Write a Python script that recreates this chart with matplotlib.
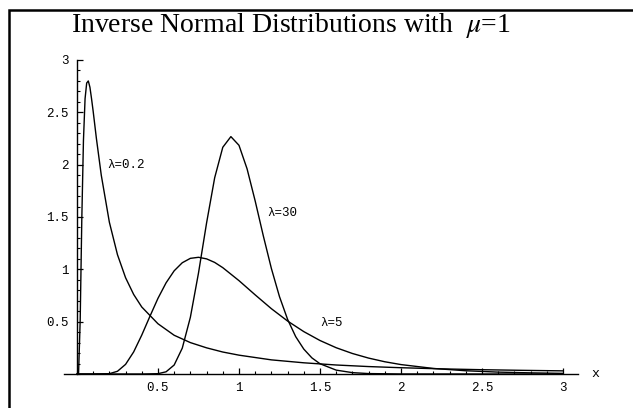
import matplotlib
matplotlib.use("Agg")
import matplotlib.pyplot as plt
from matplotlib.patches import Rectangle
from matplotlib.ticker import MultipleLocator, FixedLocator

# ---- data ----
x_l02 = [0.005, 0.01, 0.02, 0.03, 0.04, 0.05, 0.06, 0.07, 0.08, 0.09, 0.10, 0.12,
         0.15, 0.20, 0.25, 0.30, 0.35, 0.40, 0.50, 0.60, 0.70, 0.80, 0.90, 1.00,
         1.20, 1.40, 1.60, 1.80, 2.00, 2.25, 2.50, 2.75, 3.00]
y_l02 = [0.0, 0.01, 0.52, 1.49, 2.23, 2.63, 2.78, 2.80, 2.74, 2.63, 2.51, 2.25,
         1.90, 1.45, 1.14, 0.92, 0.76, 0.64, 0.48, 0.37, 0.30, 0.25, 0.21, 0.18,
         0.135, 0.107, 0.086, 0.071, 0.060, 0.049, 0.041, 0.035, 0.030]

x_l5 = [0.0, 0.10, 0.20, 0.25, 0.30, 0.35, 0.40, 0.45, 0.50, 0.55, 0.60, 0.65,
        0.70, 0.75, 0.80, 0.85, 0.90, 1.00, 1.10, 1.20, 1.30, 1.40, 1.50, 1.60,
        1.70, 1.80, 1.90, 2.00, 2.20, 2.40, 2.60, 2.80, 3.00]
y_l5 = [0.0, 0.0, 0.003, 0.026, 0.092, 0.211, 0.372, 0.550, 0.723, 0.871, 0.986, 1.063,
        1.105, 1.115, 1.100, 1.066, 1.016, 0.892, 0.756, 0.624, 0.506, 0.405, 0.320, 0.251,
        0.196, 0.152, 0.117, 0.090, 0.053, 0.031, 0.018, 0.011, 0.006]

x_l30 = [0.0, 0.40, 0.50, 0.55, 0.60, 0.65, 0.70, 0.75, 0.80, 0.85, 0.90, 0.95,
         1.00, 1.05, 1.10, 1.15, 1.20, 1.25, 1.30, 1.35, 1.40, 1.45, 1.50, 1.60,
         1.70, 1.80, 2.00, 2.50, 3.00]
y_l30 = [0.0, 0.0, 0.003, 0.021, 0.086, 0.247, 0.542, 0.964, 1.443, 1.875, 2.166, 2.268,
         2.185, 1.960, 1.653, 1.321, 1.008, 0.739, 0.522, 0.357, 0.238, 0.154, 0.098, 0.037,
         0.013, 0.004, 0.0004, 0.0, 0.0]

x_ticks = [0.5, 1, 1.5, 2, 2.5, 3]
x_ticklabels = ["0.5", "1", "1.5", "2", "2.5", "3"]
y_ticks = [0.5, 1, 1.5, 2, 2.5, 3]
y_ticklabels = ["0.5", "1", "1.5", "2", "2.5", "3"]

curve_labels = ["λ=0.2", "λ=30", "λ=5"]
label_pos = [(0.185, 2.0), (1.173, 1.54), (1.50, 0.487)]

title_text = "Inverse Normal Distributions with  $\\mu$=1"

# ---- figure ----
W, H = 633, 408
fig = plt.figure(figsize=(W / 100, H / 100), dpi=100)
fig.patch.set_facecolor("white")

plt.rcParams["mathtext.fontset"] = "stix"

# frame (left and top visible)
fig.patches.append(Rectangle((9 / W, -0.1), 1.2, 1 - 10 / H + 0.1,
                             transform=fig.transFigure, fill=False,
                             edgecolor="black", linewidth=1.8))

ax_left, ax_right = 64, 577.6
ax_bottom_px, ax_top_px = 374, 60
ax = fig.add_axes([ax_left / W, (H - ax_bottom_px) / H,
                   (ax_right - ax_left) / W, (ax_bottom_px - ax_top_px) / H])
ax.set_facecolor("none")
ax.set_xlim(-0.08, 3.09)
ax.set_ylim(0, 3.0)

for xs, ys in [(x_l02, y_l02), (x_l5, y_l5), (x_l30, y_l30)]:
    ax.plot(xs, ys, color="black", linewidth=1.0, clip_on=False)

ax.spines["top"].set_visible(False)
ax.spines["right"].set_visible(False)
ax.spines["left"].set_position(("data", 0))
ax.spines["bottom"].set_position(("data", 0))
ax.spines["left"].set_linewidth(1.0)
ax.spines["bottom"].set_linewidth(1.0)

mono = ["Liberation Mono", "DejaVu Sans Mono"]
ax.xaxis.set_major_locator(FixedLocator(x_ticks))
ax.yaxis.set_major_locator(FixedLocator(y_ticks))
ax.xaxis.set_minor_locator(MultipleLocator(0.1))
ax.yaxis.set_minor_locator(MultipleLocator(0.1))
ax.set_xticklabels(x_ticklabels, fontfamily=mono, fontsize=9)
ax.set_yticklabels(y_ticklabels, fontfamily=mono, fontsize=9)
ax.tick_params(axis="both", which="major", direction="in", length=4, width=0.9, pad=6)
ax.tick_params(axis="both", which="minor", direction="in", length=2.5, width=0.8)

ax.text(3.20, 0.0, "x", fontfamily=mono, fontsize=9.5, ha="center", va="center",
        clip_on=False)

for lab, (lx, ly) in zip(curve_labels, label_pos):
    ax.text(lx, ly, lab, fontfamily=mono, fontsize=9, ha="left", va="center")

fig.text(291 / W, 1 - 26 / H, title_text, fontfamily="Liberation Serif",
         fontsize=20, ha="center", va="center")

fig.savefig("out.png", dpi=100)
